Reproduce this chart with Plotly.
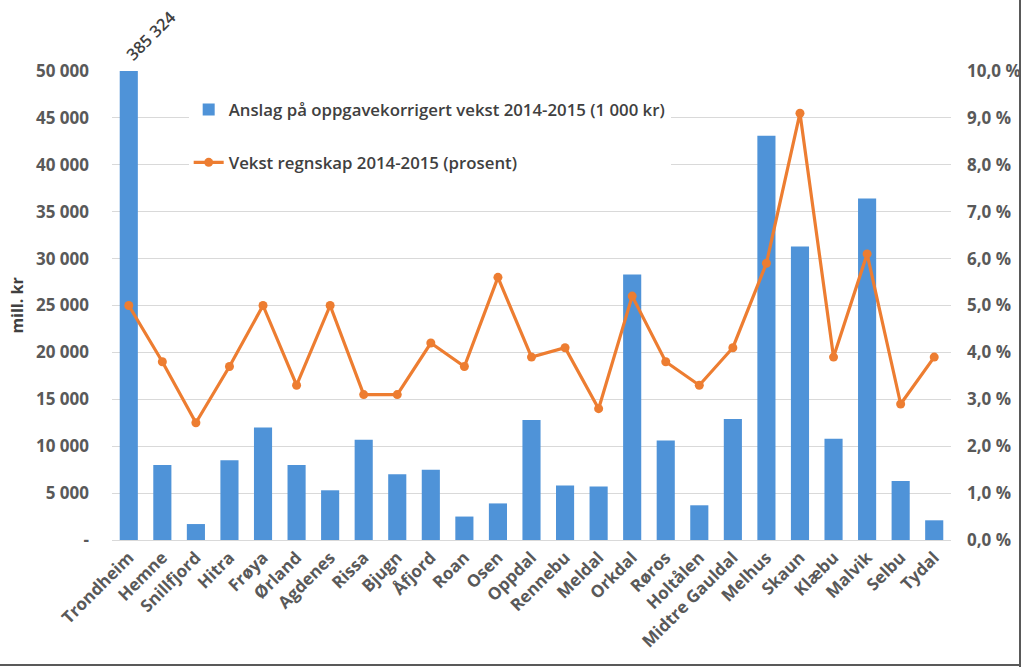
import plotly.graph_objects as go

kommuner = ["Trondheim", "Hemne", "Snillfjord", "Hitra", "Frøya", "Ørland", "Agdenes", "Rissa",
            "Bjugn", "Åfjord", "Roan", "Osen", "Oppdal", "Rennebu", "Meldal", "Orkdal", "Røros",
            "Holtålen", "Midtre Gauldal", "Melhus", "Skaun", "Klæbu", "Malvik", "Selbu", "Tydal"]
anslag = [385324, 8000, 1700, 8500, 12000, 8000, 5300, 10700, 7000, 7500, 2500, 3900, 12800,
          5800, 5700, 28300, 10600, 3700, 12900, 43100, 31300, 10800, 36400, 6300, 2100]
vekst = [5.0, 3.8, 2.5, 3.7, 5.0, 3.3, 5.0, 3.1, 3.1, 4.2, 3.7, 5.6, 3.9, 4.1, 2.8, 5.2, 3.8,
         3.3, 4.1, 5.9, 9.1, 3.9, 6.1, 2.9, 3.9]
left_ticks = [0, 5000, 10000, 15000, 20000, 25000, 30000, 35000, 40000, 45000, 50000]
left_labels = ["-", "5 000", "10 000", "15 000", "20 000", "25 000", "30 000", "35 000",
               "40 000", "45 000", "50 000"]
right_ticks = [0, 1, 2, 3, 4, 5, 6, 7, 8, 9, 10]
right_labels = ["0,0 %", "1,0 %", "2,0 %", "3,0 %", "4,0 %", "5,0 %", "6,0 %", "7,0 %",
                "8,0 %", "9,0 %", "10,0 %"]

FONT = "Open Sans"
GREY = "#595959"

FW, FH = 1024, 667
W0, W1 = 112, 951
T0, T1 = 71, 540
PW, PH = W1 - W0, T1 - T0

fig = go.Figure()
fig.add_trace(go.Bar(
    x=kommuner, y=anslag, name="Anslag på oppgavekorrigert vekst 2014-2015 (1 000 kr)",
    marker=dict(color="#4F93D8", line=dict(width=0)), legendgroup="a",
    cliponaxis=True,
))
fig.add_trace(go.Scatter(
    x=kommuner, y=vekst, yaxis="y2", mode="lines+markers",
    name="Vekst regnskap 2014-2015 (prosent)",
    line=dict(color="#ED7D31", width=3.2),
    marker=dict(color="#ED7D31", size=9), legendgroup="b",
))

fig.add_annotation(
    x=kommuner[0], y=50000, xref="x", yref="y",
    text=f"{anslag[0]:,}".replace(",", " "), showarrow=False, textangle=-45,
    xanchor="left", yanchor="bottom", xshift=-11, yshift=3,
    font=dict(family=FONT, size=16.5, color="#404040", weight=600),
)

# right and bottom frame lines
fig.add_shape(type="line", xref="paper", yref="paper",
              x0=(1020 - W0) / PW, x1=(1020 - W0) / PW,
              y0=(T1 - 667) / PH, y1=(T1 + 0) / PH,
              line=dict(color="#595959", width=2))
fig.add_shape(type="line", xref="paper", yref="paper",
              x0=(0 - W0) / PW, x1=(1021 - W0) / PW,
              y0=(T1 - 665) / PH, y1=(T1 - 665) / PH,
              line=dict(color="#595959", width=2))

fig.update_layout(
    width=FW, height=FH,
    margin=dict(l=W0, r=FW - W1, t=T0, b=FH - T1, autoexpand=False),
    paper_bgcolor="white", plot_bgcolor="white",
    bargap=0.46,
    font=dict(family=FONT, color=GREY),
    showlegend=True,
    legend=dict(
        x=0.0914, y=0.955, xanchor="left", yanchor="top",
        bgcolor="white", font=dict(family=FONT, size=16.8, color="#404040", weight=600),
        tracegroupgap=28, traceorder="grouped",
    ),
    xaxis=dict(
        range=[-0.5, len(kommuner) - 0.5],
        tickangle=-45, tickfont=dict(family=FONT, size=17, color=GREY, weight="bold"),
        showline=True, linecolor="#D9D9D9", linewidth=1, showgrid=False,
        ticks="", automargin=False,
    ),
    yaxis=dict(
        range=[0, 50000], tickvals=left_ticks, ticktext=left_labels,
        tickfont=dict(family=FONT, size=17, color=GREY, weight="bold"),
        showgrid=True, gridcolor="#D9D9D9", gridwidth=1, zeroline=False,
        title=dict(text="mill. kr", font=dict(family=FONT, size=16, color="#404040", weight="bold"),
                   standoff=8),
        ticks="", ticklabelstandoff=22, automargin=False,
    ),
    yaxis2=dict(
        range=[0, 10], overlaying="y", side="right",
        tickvals=right_ticks, ticktext=right_labels,
        tickfont=dict(family=FONT, size=17, color=GREY, weight="bold"),
        showgrid=False, zeroline=False, ticks="", ticklabelstandoff=15, automargin=False,
    ),
)

fig.write_html(
    "out.html",
    config={"displayModeBar": False},
    post_script="document.body.style.margin='0';document.body.style.overflow='hidden';",
)
